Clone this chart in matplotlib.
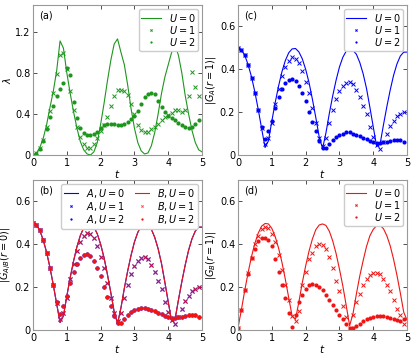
import numpy as np
from matplotlib import pyplot as plt

# time grid: lines every 0.1 from 0 to 5, markers every 0.1 from 0 to 4.9
t_line = np.round(np.arange(0, 5.01, 0.1), 2)
t_pts = np.round(np.arange(0, 4.91, 0.1), 2)

# (a) lambda
lam_u0 = [0.0, 0.02, 0.07, 0.16, 0.29, 0.46, 0.62, 0.82, 1.11, 1.04,
          0.8, 0.6, 0.42, 0.26, 0.13, 0.05, 0.01, 0.0, 0.03, 0.12,
          0.3, 0.5, 0.72, 0.92, 1.08, 1.13, 1.0, 0.88, 0.68, 0.45,
          0.26, 0.12, 0.04, 0.01, 0.02, 0.09, 0.22, 0.4, 0.6, 0.76,
          0.88, 1.0, 1.07, 0.97, 0.8, 0.58, 0.4, 0.24, 0.12, 0.05, 0.03]
lam_u1 = [0.0, 0.02, 0.07, 0.15, 0.27, 0.43, 0.6, 0.79, 0.97, 0.99,
          0.84, 0.62, 0.44, 0.27, 0.18, 0.11, 0.065, 0.065, 0.11, 0.17,
          0.23, 0.29, 0.37, 0.475, 0.57, 0.63, 0.63, 0.62, 0.58, 0.5,
          0.4, 0.29, 0.24, 0.22, 0.225, 0.25, 0.27, 0.3, 0.34, 0.365,
          0.39, 0.41, 0.44, 0.44, 0.42, 0.44, 0.57, 0.81, 0.66, 0.57]
lam_u2 = [0.0, 0.01, 0.06, 0.14, 0.25, 0.37, 0.48, 0.57, 0.64, 0.7,
          0.85, 0.78, 0.52, 0.36, 0.26, 0.21, 0.19, 0.19, 0.2, 0.22,
          0.26, 0.29, 0.3, 0.3, 0.3, 0.29, 0.29, 0.3, 0.32, 0.35,
          0.38, 0.43, 0.5, 0.56, 0.59, 0.6, 0.59, 0.53, 0.47, 0.42,
          0.38, 0.36, 0.34, 0.31, 0.29, 0.27, 0.26, 0.27, 0.3, 0.34]

# (b) and (c): |G_A/B(r=0)| and |G_A(r=1)| coincide
ga_u0 = [0.5, 0.491, 0.465, 0.421, 0.364, 0.293, 0.211, 0.122, 0.035, 0.066,
         0.158, 0.245, 0.322, 0.389, 0.441, 0.477, 0.495, 0.497, 0.481, 0.449,
         0.4, 0.338, 0.26, 0.175, 0.085, 0.03, 0.103, 0.194, 0.276, 0.349,
         0.411, 0.456, 0.485, 0.49, 0.488, 0.47, 0.432, 0.379, 0.31, 0.222,
         0.13, 0.04, 0.05, 0.14, 0.225, 0.303, 0.372, 0.425, 0.462, 0.48, 0.48]
ga_u1 = [0.5, 0.49, 0.465, 0.42, 0.36, 0.29, 0.21, 0.125, 0.05, 0.08,
         0.15, 0.24, 0.31, 0.37, 0.41, 0.44, 0.455, 0.45, 0.43, 0.39,
         0.34, 0.29, 0.22, 0.15, 0.08, 0.04, 0.08, 0.15, 0.21, 0.26,
         0.3, 0.32, 0.335, 0.34, 0.33, 0.305, 0.27, 0.23, 0.19, 0.13,
         0.085, 0.045, 0.03, 0.06, 0.1, 0.135, 0.16, 0.18, 0.19, 0.2]
ga_u2 = [0.5, 0.49, 0.465, 0.42, 0.36, 0.29, 0.21, 0.13, 0.075, 0.11,
         0.16, 0.22, 0.27, 0.31, 0.335, 0.35, 0.355, 0.345, 0.32, 0.29,
         0.25, 0.2, 0.155, 0.11, 0.065, 0.035, 0.035, 0.05, 0.07, 0.085,
         0.095, 0.1, 0.105, 0.105, 0.1, 0.095, 0.09, 0.08, 0.075, 0.065,
         0.06, 0.055, 0.055, 0.06, 0.06, 0.065, 0.068, 0.07, 0.068, 0.06]

# (d) |G_B(r=1)|
gb_u0 = [0.01, 0.094, 0.185, 0.269, 0.343, 0.405, 0.453, 0.485, 0.497, 0.495,
         0.474, 0.436, 0.382, 0.315, 0.236, 0.15, 0.065, 0.05, 0.131, 0.22,
         0.299, 0.368, 0.425, 0.468, 0.49, 0.495, 0.488, 0.461, 0.416, 0.357,
         0.284, 0.205, 0.114, 0.02, 0.076, 0.168, 0.252, 0.324, 0.39, 0.44,
         0.47, 0.487, 0.488, 0.473, 0.44, 0.393, 0.33, 0.255, 0.172, 0.083, 0.045]
gb_u1 = [0.01, 0.095, 0.185, 0.265, 0.335, 0.4, 0.44, 0.47, 0.48, 0.475,
         0.45, 0.41, 0.35, 0.28, 0.21, 0.14, 0.065, 0.04, 0.09, 0.21,
         0.27, 0.33, 0.36, 0.39, 0.4, 0.395, 0.38, 0.34, 0.29, 0.23,
         0.18, 0.11, 0.06, 0.01, 0.07, 0.13, 0.17, 0.21, 0.24, 0.255,
         0.265, 0.265, 0.26, 0.24, 0.21, 0.18, 0.14, 0.1, 0.07, 0.03]
gb_u2 = [0.01, 0.095, 0.185, 0.26, 0.335, 0.38, 0.415, 0.43, 0.43, 0.42,
         0.39, 0.33, 0.27, 0.21, 0.15, 0.08, 0.015, 0.07, 0.13, 0.165,
         0.19, 0.21, 0.215, 0.21, 0.2, 0.185, 0.165, 0.14, 0.115, 0.095,
         0.07, 0.05, 0.03, 0.01, 0.01, 0.02, 0.03, 0.04, 0.05, 0.055,
         0.06, 0.065, 0.066, 0.065, 0.062, 0.058, 0.052, 0.045, 0.04, 0.05]

x_ticks = [0, 1, 2, 3, 4, 5]
lam_ticks = [0, 0.4, 0.8, 1.2]
lam_tick_labels = ["0", "0.4", "0.8", "1.2"]
g_ticks = [0, 0.2, 0.4, 0.6]
g_tick_labels = ["0", "0.2", "0.4", "0.6"]

GREEN = "#1e961e"
BLUE = "#0000ff"
RED = "#f01414"

plt.rcParams["font.size"] = 7
plt.rcParams["mathtext.fontset"] = "dejavusans"

LEG = dict(fontsize=7, markerscale=0.55, handletextpad=0.8,
           labelspacing=0.0, borderpad=0.3, borderaxespad=0.4,
           framealpha=1, edgecolor="#cccccc")

fig = plt.figure(figsize=(4.15, 3.56), dpi=100)
ax_a = fig.add_axes([0.0795, 0.5646, 0.4075, 0.4214])
ax_c = fig.add_axes([0.5735, 0.5646, 0.4075, 0.4214])
ax_b = fig.add_axes([0.0795, 0.073, 0.4075, 0.4214])
ax_d = fig.add_axes([0.5735, 0.073, 0.4075, 0.4214])


def style_axes(ax, ylim, yticks, ylabels, ylabel, tag):
    ax.set_xlim(0, 5)
    ax.set_ylim(*ylim)
    ax.set_xticks(x_ticks)
    ax.set_yticks(yticks)
    ax.set_yticklabels(ylabels)
    ax.tick_params(direction="in", length=3, width=0.6, top=True,
                   right=True, pad=2, colors="#333333", labelcolor="black")
    for sp in ax.spines.values():
        sp.set_color("#999999")
        sp.set_linewidth(0.8)
    ax.set_xlabel("$t$", fontsize=7.5, labelpad=0)
    ax.set_ylabel(ylabel, fontsize=7, labelpad=1)
    ax.text(0.035, 0.93, tag, transform=ax.transAxes, fontsize=7,
            va="center", ha="left")


def plot_three(ax, line, u1, u2, color):
    ax.plot(t_line, line, color=color, lw=0.8, label="$U=0$")
    ax.plot(t_pts, u1, ls="none", marker="x", ms=2.8, mew=0.7,
            color=color, label="$U=1$")
    ax.plot(t_pts, u2, ls="none", marker="o", ms=3.0, mew=0,
            color=color, label="$U=2$")
    ax.legend(loc="upper right", handlelength=2.0, **LEG)


plot_three(ax_a, lam_u0, lam_u1, lam_u2, GREEN)
style_axes(ax_a, (0, 1.46), lam_ticks, lam_tick_labels, r"$\lambda$", "(a)")

plot_three(ax_c, ga_u0, ga_u1, ga_u2, BLUE)
style_axes(ax_c, (0, 0.7), g_ticks, g_tick_labels, r"$|G_A(r=1)|$", "(c)")

plot_three(ax_d, gb_u0, gb_u1, gb_u2, RED)
style_axes(ax_d, (0, 0.7), g_ticks, g_tick_labels, r"$|G_B(r=1)|$", "(d)")

# (b): A and B on top of each other
for name, color in (("A", BLUE), ("B", RED)):
    ax_b.plot(t_line, ga_u0, color=color, lw=0.8, label=f"${name}, U=0$")
    ax_b.plot(t_pts, ga_u1, ls="none", marker="x", ms=2.8, mew=0.7,
              color=color, alpha=0.75 if name == "B" else 1,
              label=f"${name}, U=1$")
    ax_b.plot(t_pts, ga_u2, ls="none", marker="o", ms=3.0, mew=0,
              color=color, label=f"${name}, U=2$")
ax_b.legend(loc="upper right", ncol=2, handlelength=1.5,
            columnspacing=1.0, **LEG)
style_axes(ax_b, (0, 0.7), g_ticks, g_tick_labels, r"$|G_{A/B}(r=0)|$", "(b)")

fig.savefig("out.png", dpi=100)
